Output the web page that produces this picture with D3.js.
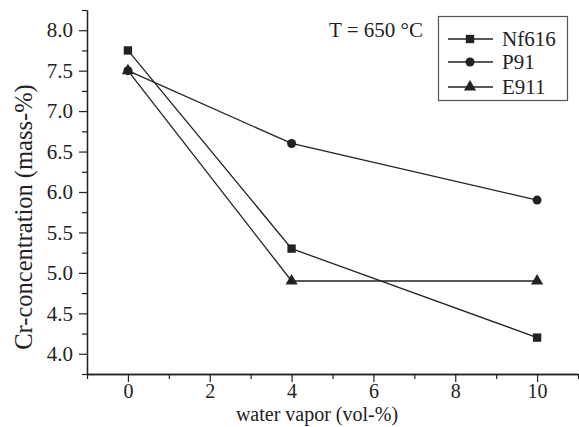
<!DOCTYPE html>
<html>
<head>
<meta charset="utf-8">
<script src="https://cdn.jsdelivr.net/npm/d3@7"></script>
<style>
  body { margin: 0; background: #fff; }
  text { font-family: "Liberation Serif", "DejaVu Serif", serif; fill: #222; }
</style>
</head>
<body>
<svg id="chart" width="579" height="427"></svg>
<script>
// values
var vapor = [0, 4, 10];
var nf616 = [7.75, 5.3, 4.2];
var p91 = [7.5, 6.6, 5.9];
var e911 = [7.5, 4.9, 4.9];
var seriesNames = ["Nf616", "P91", "E911"];
var xTicks = [0, 2, 4, 6, 8, 10];
var yTicks = [4.0, 4.5, 5.0, 5.5, 6.0, 6.5, 7.0, 7.5, 8.0];

var svg = d3.select("#chart");
var ink = "#222";

var x = d3.scaleLinear().domain([-1, 11]).range([87, 578]);
var y = d3.scaleLinear().domain([3.75, 8.25]).range([374, 10]);

// axes, major + minor ticks
var xMinor = d3.range(-1, 11.01, 1).filter(function(d) { return d % 2 != 0; });
var yMinor = d3.range(3.75, 8.26, 0.25).filter(function(d) { return Math.abs(d * 2 - Math.round(d * 2)) > 0.01; });

var gx = svg.append("g").attr("transform", "translate(0,374)");
gx.call(d3.axisBottom(x).tickValues(xTicks).tickSize(8).tickSizeOuter(0).tickPadding(2).tickFormat(d3.format("d")));
gx.append("g").call(d3.axisBottom(x).tickValues(xMinor).tickSize(5).tickSizeOuter(0).tickFormat(""));

var gy = svg.append("g").attr("transform", "translate(87,0)");
gy.call(d3.axisLeft(y).tickValues(yTicks).tickSize(8).tickSizeOuter(0).tickPadding(6).tickFormat(d3.format(".1f")));
gy.append("g").call(d3.axisLeft(y).tickValues(yMinor).tickSize(5).tickSizeOuter(0).tickFormat(""));

svg.selectAll(".domain").attr("stroke", ink).attr("stroke-width", 1.3);
svg.selectAll(".tick line").attr("stroke", ink).attr("stroke-width", 1.2);
svg.selectAll(".tick text").style("font-size", "21px").attr("fill", ink);
gx.selectAll(".tick text").style("font-size", "20px");

// axis titles
svg.append("text")
  .attr("x", 317).attr("y", 421)
  .attr("text-anchor", "middle")
  .style("font-size", "20px")
  .text("water vapor (vol-%)");

svg.append("text")
  .attr("transform", "translate(32,217) rotate(-90)")
  .attr("text-anchor", "middle")
  .style("font-size", "24.5px")
  .text("Cr-concentration (mass-%)");

svg.append("text")
  .attr("x", 329).attr("y", 37)
  .style("font-size", "21px")
  .text("T = 650 °C");

// marker drawing
var symbols = [d3.symbolSquare, d3.symbolCircle, d3.symbolTriangle];
var symSizes = [70, 64, 64];

function drawSeries(vals, i) {
  var pts = vapor.map(function(v, j) { return [x(v), y(vals[j])]; });
  svg.append("path")
    .attr("d", d3.line()(pts))
    .attr("fill", "none")
    .attr("stroke", ink)
    .attr("stroke-width", 1.3);
  svg.selectAll(null).data(pts).enter().append("path")
    .attr("transform", function(d) { return "translate(" + d[0] + "," + d[1] + ")"; })
    .attr("d", d3.symbol().type(symbols[i]).size(symSizes[i]))
    .attr("fill", ink);
}

[nf616, p91, e911].forEach(drawSeries);

// legend
var leg = svg.append("g");
leg.append("rect")
  .attr("x", 438.5).attr("y", 16.5).attr("width", 129).attr("height", 84)
  .attr("fill", "#fff").attr("stroke", "#555").attr("stroke-width", 1.2);

var legY = [39, 62, 87];
seriesNames.forEach(function(name, i) {
  leg.append("line")
    .attr("x1", 448).attr("x2", 493).attr("y1", legY[i]).attr("y2", legY[i])
    .attr("stroke", ink).attr("stroke-width", 1.3);
  leg.append("path")
    .attr("transform", "translate(470," + legY[i] + ")")
    .attr("d", d3.symbol().type(symbols[i]).size(symSizes[i]))
    .attr("fill", ink);
  leg.append("text")
    .attr("x", 502).attr("y", legY[i] + 7)
    .style("font-size", "21px")
    .text(name);
});
</script>
</body>
</html>
